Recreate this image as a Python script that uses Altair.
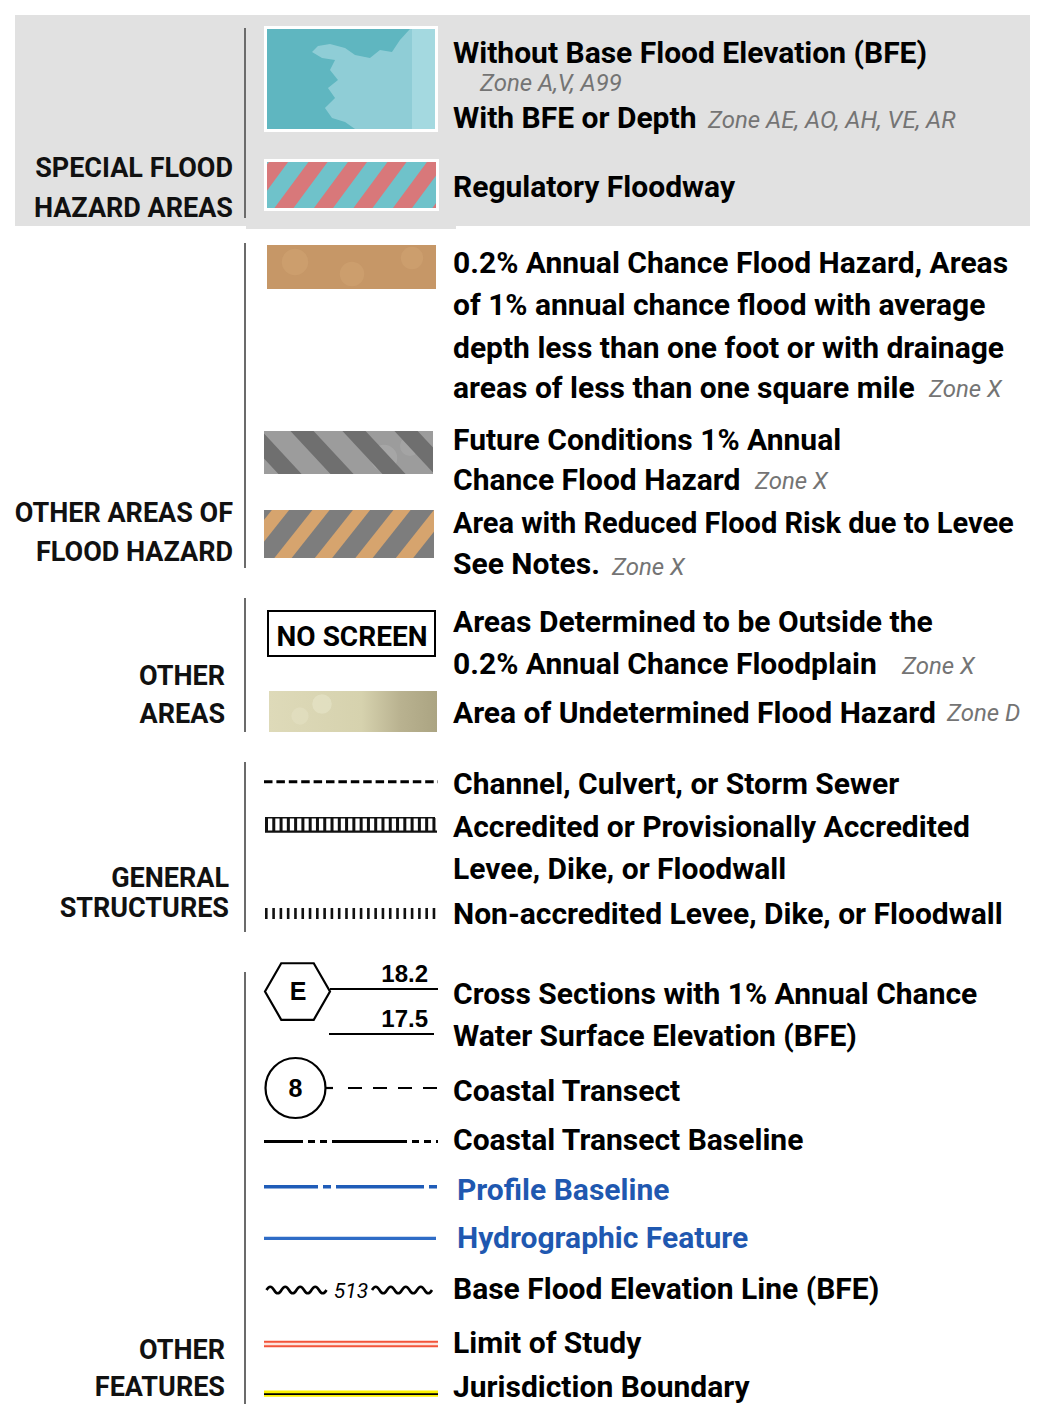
import altair as alt
import pandas as pd

# ---------------- text content ----------------
category_labels = ["SPECIAL FLOOD", "HAZARD AREAS", "OTHER AREAS OF", "FLOOD HAZARD",
                   "OTHER", "AREAS", "GENERAL", "STRUCTURES", "OTHER", "FEATURES"]
description_labels = [
    "Without Base Flood Elevation (BFE)",
    "With BFE or Depth",
    "Regulatory Floodway",
    "0.2% Annual Chance Flood Hazard, Areas",
    "of 1% annual chance flood with average",
    "depth less than one foot or with drainage",
    "areas of less than one square mile",
    "Future Conditions 1% Annual",
    "Chance Flood Hazard",
    "Area with Reduced Flood Risk due to Levee",
    "See Notes.",
    "Areas Determined to be Outside the",
    "0.2% Annual Chance Floodplain",
    "Area of Undetermined Flood Hazard",
    "Channel, Culvert, or Storm Sewer",
    "Accredited or Provisionally Accredited",
    "Levee, Dike, or Floodwall",
    "Non-accredited Levee, Dike, or Floodwall",
    "Cross Sections with 1% Annual Chance",
    "Water Surface Elevation (BFE)",
    "Coastal Transect",
    "Coastal Transect Baseline",
    "Base Flood Elevation Line (BFE)",
    "Limit of Study",
    "Jurisdiction Boundary",
]
zone_labels = ["Zone A,V, A99", "Zone AE, AO, AH, VE, AR", "Zone X", "Zone X",
               "Zone X", "Zone X", "Zone D"]
blue_labels = ["Profile Baseline", "Hydrographic Feature"]
box_label = "NO SCREEN"
cross_section_letter = "E"
transect_number = "8"
elevation_labels = ["18.2", "17.5"]
bfe_value = "513"

# ---------------- layout (reference pixel coordinates) ----------------
category_right = [233, 233, 233, 233, 225, 225, 229, 229, 225, 225]
category_base = [177, 217, 522, 561, 685, 723, 887, 917, 1359, 1396]
desc_base = [63, 128, 197, 273, 315, 358, 398, 450, 490, 533, 574, 632, 674, 723,
             794, 837, 879, 924, 1004, 1046, 1101, 1150, 1299, 1353, 1397]
desc_size = [30] * len(description_labels)
desc_size[9] = 29  # the longest line, kept inside the right edge
zone_x = [480, 708, 929, 755, 612, 902, 947]
zone_base = [91, 128, 397, 489, 575, 674, 721]
blue_base = [1200, 1248]
separator_spans = [(28, 218), (243, 568), (598, 732), (762, 932), (972, 1404)]

FONT = "Roboto, Liberation Sans, sans-serif"
SYMFONT = "Liberation Sans, Arial, sans-serif"
GRAY_BG = "#e1e1e1"

XS = alt.Scale(domain=[8, 1030], nice=False, zero=False)
YS = alt.Scale(domain=[8, 1404], nice=False, zero=False, reverse=True)


def X(f):
    return alt.X(f, type="quantitative", scale=XS, axis=None)


def Y(f):
    return alt.Y(f, type="quantitative", scale=YS, axis=None)


def rects(rows, **kw):
    df = pd.DataFrame(rows, columns=["x1", "y1", "x2", "y2", "c"])
    return alt.Chart(df).mark_rect(**kw).encode(
        x=X("x1"), x2=alt.X2("x2"), y=Y("y1"), y2=alt.Y2("y2"),
        color=alt.Color("c:N", scale=None))


def rules(rows, **kw):
    df = pd.DataFrame(rows, columns=["x1", "y1", "x2", "y2", "c", "w"])
    return alt.Chart(df).mark_rule(strokeCap="butt", **kw).encode(
        x=X("x1"), x2=alt.X2("x2"), y=Y("y1"), y2=alt.Y2("y2"),
        color=alt.Color("c:N", scale=None),
        strokeWidth=alt.StrokeWidth("w:Q", scale=None))


def texts(labels, xs, ys, **kw):
    df = pd.DataFrame({"t": labels, "x": xs, "y": ys})
    return alt.Chart(df).mark_text(baseline="alphabetic", **kw).encode(
        x=X("x"), y=Y("y"), text="t:N")


def border(x1, y1, x2, y2, t, c):
    return [(x1 - t, y1 - t, x2 + t, y1, c), (x1 - t, y2, x2 + t, y2 + t, c),
            (x1 - t, y1, x1, y2, c), (x2, y1, x2 + t, y2, c)]


def stripes(x1, y1, x2, y2, first, period, shift, slash, width, color):
    h = y2 - y1
    m = width / 2.0
    rows = []
    b = first
    while b < x2 + period:
        lo = max(-m / h, (x1 - m - b) / shift)
        hi = min(1 + m / h, (x2 + m - b) / shift)
        if lo < hi:
            if slash:
                ya, yb = y2 - lo * h, y2 - hi * h
            else:
                ya, yb = y1 + lo * h, y1 + hi * h
            rows.append((b + shift * lo, ya, b + shift * hi, yb, color, width))
        b += period
    return rows


def shape_layer(xs, ys, shape, size, **kw):
    df = pd.DataFrame({"x": xs, "y": ys})
    return alt.Chart(df).mark_point(shape=shape, size=size, **kw).encode(x=X("x"), y=Y("y"))


layers = []

# gray band behind the special flood hazard areas
layers.append(rects([(15, 15, 1033, 226, GRAY_BG)]))

# swatch bases
layers.append(rects([
    (267, 29, 435, 129, "#5fb6c0"),
    (267, 162, 436, 208, "#6fc2ca"),
    (267, 245, 436, 289, "#c69767"),
    (264, 431, 433, 474, "#9c9c9c"),
    (264, 510, 434, 558, "#7d7d7d"),
]))
layers.append(alt.Chart(pd.DataFrame([{"x1": 269, "y1": 691, "x2": 437, "y2": 732}])).mark_rect(
    color={"gradient": "linear", "x1": 0, "x2": 1, "y1": 0, "y2": 0,
           "stops": [{"offset": 0, "color": "#dedab9"}, {"offset": 0.55, "color": "#d6d2ae"},
                     {"offset": 0.78, "color": "#b9b290"}, {"offset": 1, "color": "#aba482"}]}
).encode(x=X("x1"), x2=alt.X2("x2"), y=Y("y1"), y2=alt.Y2("y2")))

# coastline texture in the teal swatch (unit-square path, scaled to the swatch)
LAND = ("M 1 -0.595 L 0.702 -0.595 L 0.583 -0.464 L 0.488 -0.321 L 0.345 -0.345 "
        "L 0.226 -0.25 L 0.048 -0.286 L -0.071 -0.369 L -0.25 -0.417 L -0.393 -0.393 "
        "L -0.464 -0.321 L -0.345 -0.25 L -0.19 -0.226 L -0.25 -0.107 L -0.155 0.012 "
        "L -0.274 0.107 L -0.19 0.226 L -0.31 0.345 L -0.226 0.464 L -0.071 0.512 "
        "L 0.048 0.595 L 1 0.595 Z")
layers.append(shape_layer([351], [79], LAND, 28224, filled=True, color="#98d1d9",
                          opacity=0.85, strokeWidth=0))
layers.append(rects([(412, 29, 435, 129, "#a9dce2")], opacity=0.8))

# mottling elsewhere
blob_rows = [
    (295, 262, 700, "#d2a676"), (352, 274, 600, "#d2a676"), (412, 258, 500, "#d2a676"),
    (384, 458, 700, "#b4b4b4"), (410, 446, 400, "#b0b0b0"),
    (322, 704, 380, "#ecebd0"), (300, 716, 300, "#e6e4c8"),
]
bdf = pd.DataFrame(blob_rows, columns=["x", "y", "s", "c"])
layers.append(alt.Chart(bdf).mark_circle(opacity=0.45).encode(
    x=X("x"), y=Y("y"), size=alt.Size("s:Q", scale=None), color=alt.Color("c:N", scale=None)))

# diagonal stripes
stripe_rows = []
stripe_rows += stripes(267, 162, 436, 208, 284 - 39.5 * 3, 39.5, 34, True, 15.5, "#d8787a")
stripe_rows += stripes(264, 431, 433, 474, 250 - 52 * 2, 52, 40, False, 17, "#6f6f6f")
stripe_rows += stripes(264, 510, 434, 558, 283 - 40.5 * 3, 40.5, 38, True, 13.5, "#d6a46e")
layers.append(rules(stripe_rows))

# masks that trim stripe overflow, then the white frames
mask_rows = []
mask_rows += border(264, 159, 438, 211, 18, GRAY_BG)
mask_rows += border(264, 431, 433, 474, 18, "#ffffff")
mask_rows += border(264, 510, 434, 558, 18, "#ffffff")
mask_rows += border(267, 29, 435, 129, 3, "#ffffff")
mask_rows += border(267, 162, 436, 208, 3, "#ffffff")
layers.append(rects(mask_rows))

# vertical separators
layers.append(rules([(245, a, 245, b, "#6b6b6b", 2) for a, b in separator_spans]))

# NO SCREEN box
layers.append(rects([(268, 611, 435, 656, "#ffffff")], stroke="#000000", strokeWidth=2))

# line symbols: solid
layers.append(rules([
    (265, 817.7, 435, 817.7, "#111111", 1.6),
    (265, 831.6, 437, 831.6, "#111111", 2.4),
    (330, 989, 438, 989, "#000000", 2.2),
    (329, 1034, 434, 1034, "#000000", 2.2),
    (326, 1088, 333, 1088, "#000000", 2.2),
    (264, 1238.3, 436, 1238.3, "#2f6cc6", 3.2),
    (264, 1344, 438, 1344, "#f2543a", 6.5),
    (264, 1344, 438, 1344, "#fde3dd", 2.4),
    (264, 1393.7, 438, 1393.7, "#fbf200", 6.2),
    (264, 1394.2, 438, 1394.2, "#000000", 1.8),
]))
# dashed / ticked line symbols
layers.append(rules([(264, 781.7, 438, 781.7, "#000000", 3)], strokeDash=[8.5, 3.9]))
layers.append(rules([(265, 824.6, 437, 824.6, "#111111", 13)], strokeDash=[3, 4.28]))
layers.append(rules([(265, 913.5, 437, 913.5, "#111111", 11)], strokeDash=[2.6, 4.69]))
layers.append(rules([(348, 1088, 438, 1088, "#000000", 2.2)], strokeDash=[14, 11]))
layers.append(rules([(264, 1141.5, 438, 1141.5, "#000000", 2.8)],
                    strokeDash=[75, 5, 7, 5, 7, 5], strokeDashOffset=36))
layers.append(rules([(264, 1186.7, 438, 1186.7, "#1f5cb8", 3.4)],
                    strokeDash=[88, 5, 8, 5], strokeDashOffset=34))

# hexagon, circle, waves
HEX = "M -1 0 L -0.5 -0.87 L 0.5 -0.87 L 1 0 L 0.5 0.87 L -0.5 0.87 Z"
WAVE = ("M -1 0 Q -0.875 -0.22 -0.75 0 T -0.5 0 T -0.25 0 T 0 0 "
        "T 0.25 0 T 0.5 0 T 0.75 0 T 1 0")
layers.append(shape_layer([297.5], [991.5], HEX, 4225, filled=False, strokeWidth=2.2,
                          color="#000000", opacity=1))
layers.append(shape_layer([295.5], [1088], "circle", 3600, filled=False, strokeWidth=2.2,
                          color="#000000", opacity=1))
layers.append(shape_layer([296.5, 402], [1290, 1290], WAVE, 3600, filled=False,
                          strokeWidth=2.6, color="#000000", opacity=1))

# symbol texts
layers.append(texts([cross_section_letter, transect_number], [298, 295.5], [1000, 1097],
                    align="center", font=SYMFONT, fontSize=25, fontWeight="bold", color="#000000"))
layers.append(texts(elevation_labels, [428, 428], [982, 1027],
                    align="right", font=SYMFONT, fontSize=24, fontWeight="bold", color="#000000"))
layers.append(texts([bfe_value], [351], [1298], align="center", font=FONT, fontSize=21,
                    fontStyle="italic", color="#000000"))
layers.append(texts([box_label], [352], [646], align="center", font=FONT, fontSize=28,
                    fontWeight="bold", color="#000000"))

# category labels
layers.append(texts(category_labels, category_right, category_base, align="right",
                    font=FONT, fontSize=27, fontWeight="bold", color="#111111"))
# descriptions
ddf = pd.DataFrame({"t": description_labels, "x": [453] * len(description_labels),
                    "y": desc_base, "s": desc_size})
layers.append(alt.Chart(ddf).mark_text(
    baseline="alphabetic", align="left", font=FONT, fontWeight="bold", color="#000000"
).encode(x=X("x"), y=Y("y"), text="t:N", size=alt.Size("s:Q", scale=None)))
layers.append(texts(blue_labels, [457, 457], blue_base, align="left", font=FONT,
                    fontSize=30, fontWeight="bold", color="#1f58b0"))
layers.append(texts(zone_labels, zone_x, zone_base, align="left", font=FONT,
                    fontSize=24, fontStyle="italic", color="#747474"))

chart = alt.layer(*layers).properties(
    width=1022, height=1396, padding=0, autosize="none"
).configure_view(stroke=None)

chart.save("out.html", embed_options={"renderer": "svg", "actions": False})
